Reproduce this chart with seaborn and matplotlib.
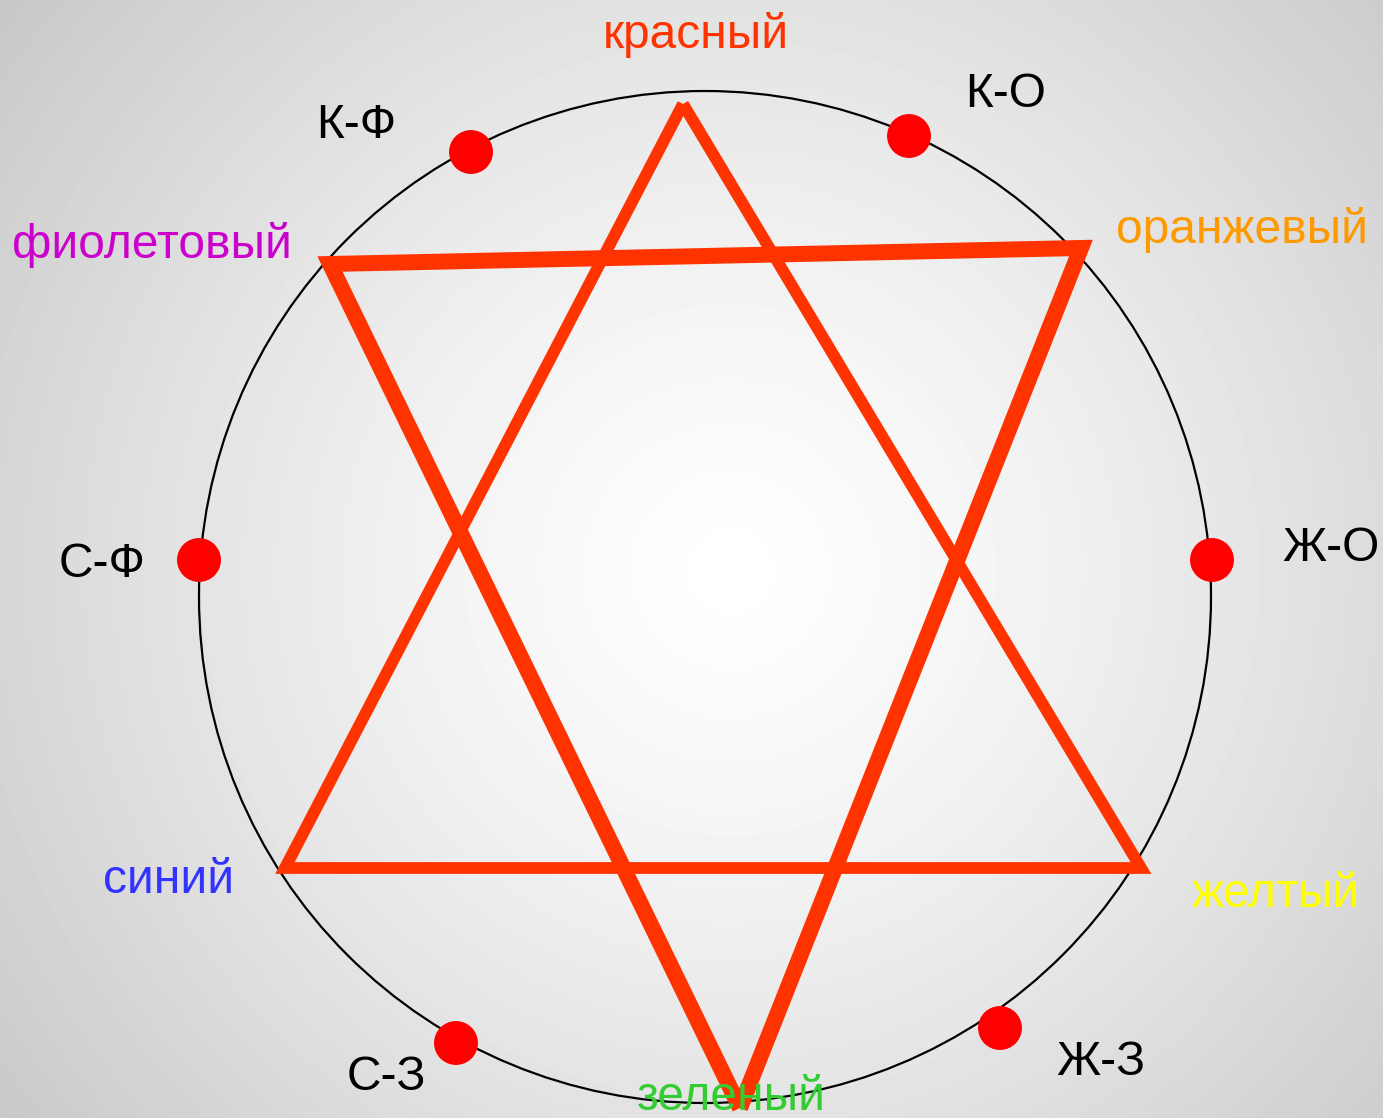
import matplotlib.pyplot as plt
import numpy as np
import pandas as pd
import seaborn as sns
from matplotlib.patches import Circle

sns.set_theme(style="white")
plt.rcParams["font.family"] = ["Liberation Sans", "DejaVu Sans"]

# Canvas size (pixels) and the colour wheel circle
W, H = 1383, 1118
circle_center = (705, 597)
circle_radius = 506

# Star of the colour wheel: two triangles (vertex positions in pixels)
tri1_x = [683, 285, 1141, 683]
tri1_y = [104, 868, 868, 104]
tri2_x = [740, 330, 1081, 740]
tri2_y = [1108, 264, 248, 1108]

# Mixed colour dots on the circle
dot_x = [471, 909, 199, 1212, 456, 1000]
dot_y = [152, 136, 560, 560, 1043, 1028]

# Labels
labels = ["красный", "К-О", "К-Ф", "оранжевый", "фиолетовый", "С-Ф",
          "Ж-О", "синий", "желтый", "С-З", "Ж-З", "зеленый"]
label_x = [696, 1006, 356, 1242, 152, 102, 1331, 169, 1276, 386, 1101, 731]
label_y = [48, 107, 138, 243, 258, 577, 561, 893, 907, 1090, 1075, 1110]
label_colors = ["#FF3300", "black", "black", "#FF9900", "#CC00CC", "black",
                "black", "#3333FF", "#FFFF00", "black", "black", "#33CC33"]

fig = plt.figure(figsize=(W / 100, H / 100), dpi=100)
ax = fig.add_axes([0, 0, 1, 1])

# Radial gradient background
yy, xx = np.mgrid[0:H, 0:W]
d = np.hypot(xx - 730, yy - 570) / 900
shade = 1 - 0.21 * np.clip(d, 0, 1.1) ** 1.3
ax.imshow(shade, cmap="gray", vmin=0, vmax=1, extent=[0, W, H, 0],
          interpolation="bilinear", zorder=0)

ax.add_patch(Circle(circle_center, circle_radius, fill=False,
                    edgecolor="black", linewidth=1.6, zorder=1))

t1 = pd.DataFrame({"x": tri1_x, "y": tri1_y})
t2 = pd.DataFrame({"x": tri2_x, "y": tri2_y})
sns.lineplot(data=t1, x="x", y="y", sort=False, estimator=None, ax=ax,
             color="#FF3300", linewidth=8.5, zorder=2)
sns.lineplot(data=t2, x="x", y="y", sort=False, estimator=None, ax=ax,
             color="#FF3300", linewidth=11.5, zorder=2)
for line in ax.lines:
    line.set_solid_joinstyle("miter")
    line.set_solid_capstyle("butt")

dots = pd.DataFrame({"x": dot_x, "y": dot_y})
sns.scatterplot(data=dots, x="x", y="y", ax=ax, s=1000, color="#FF0000",
                edgecolor="none", zorder=3)

for txt, x, y, c in zip(labels, label_x, label_y, label_colors):
    ax.text(x, y, txt, color=c, fontsize=34.5, ha="center", va="baseline",
            zorder=4)

ax.set_xlim(0, W)
ax.set_ylim(H, 0)
ax.set_axis_off()

fig.savefig("out.png", dpi=100)
